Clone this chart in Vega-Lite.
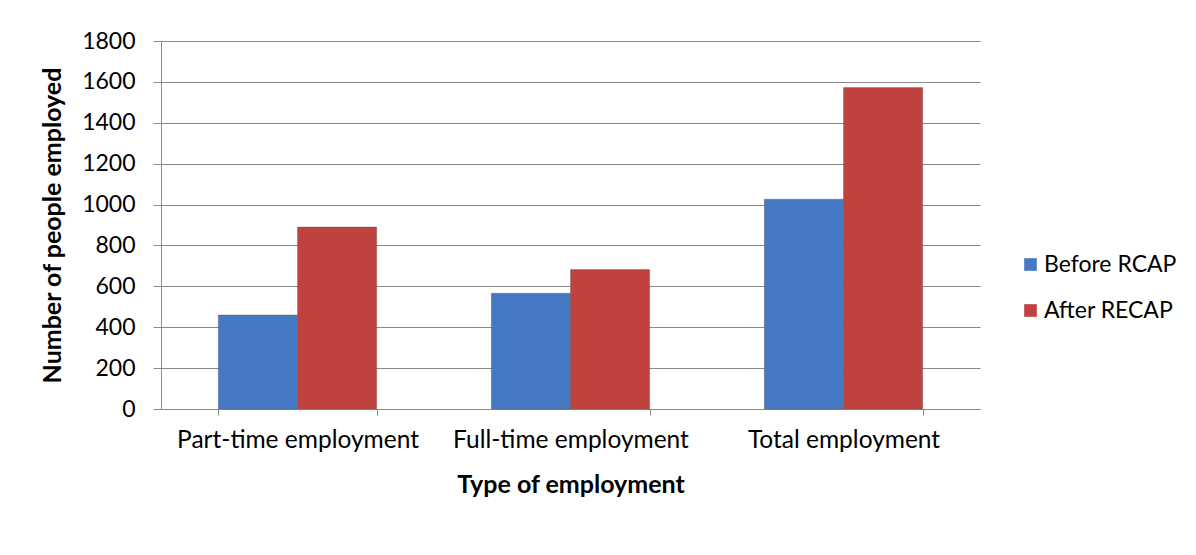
{
  "$schema": "https://vega.github.io/schema/vega-lite/v6.json",
  "autosize": "none",
  "width": 819,
  "height": 368,
  "padding": {"left": 161, "top": 41, "right": 216, "bottom": 146},
  "background": "white",
  "data": {
    "values": [
      {"type": "Part-time employment", "period": "Before RCAP", "value": 460},
      {"type": "Part-time employment", "period": "After RECAP", "value": 890},
      {"type": "Full-time employment", "period": "Before RCAP", "value": 566},
      {"type": "Full-time employment", "period": "After RECAP", "value": 682},
      {"type": "Total employment", "period": "Before RCAP", "value": 1026},
      {"type": "Total employment", "period": "After RECAP", "value": 1572}
    ]
  },
  "mark": {"type": "bar", "stroke": "#555555", "strokeWidth": 0.6, "strokeOpacity": 0.6},
  "encoding": {
    "x": {
      "field": "type",
      "type": "nominal",
      "sort": ["Part-time employment", "Full-time employment", "Total employment"],
      "scale": {"paddingInner": 0.42, "paddingOuter": 0.21},
      "axis": {
        "title": "Type of employment",
        "labelAngle": 0,
        "labelLimit": 400,
        "labelFontSize": 24.5,
        "tickBand": "extent",
        "tickSize": 6,
        "labelPadding": 13,
        "titlePadding": 21,
        "grid": false
      }
    },
    "xOffset": {
      "field": "period",
      "type": "nominal",
      "sort": ["Before RCAP", "After RECAP"],
      "scale": {"paddingInner": 0, "paddingOuter": 0}
    },
    "y": {
      "field": "value",
      "type": "quantitative",
      "scale": {"domain": [0, 1800], "nice": false},
      "axis": {
        "title": "Number of people employed",
        "format": "d",
        "values": [0, 200, 400, 600, 800, 1000, 1200, 1400, 1600, 1800],
        "tickSize": 8,
        "labelPadding": 18,
        "titlePadding": 16,
        "grid": true
      }
    },
    "color": {
      "field": "period",
      "type": "nominal",
      "scale": {"domain": ["Before RCAP", "After RECAP"], "range": ["#4679C4", "#C0423F"]},
      "legend": {
        "title": null,
        "orient": "none",
        "legendX": 858,
        "legendY": 212,
        "symbolType": "square",
        "symbolSize": 160,
        "symbolStrokeWidth": 0,
        "labelFontSize": 23,
        "labelFont": "Lato",
        "labelColor": "#000000",
        "labelOffset": 2,
        "rowPadding": 22
      }
    }
  },
  "config": {
    "view": {"stroke": null},
    "axis": {
      "labelFont": "Lato",
      "labelFontSize": 23,
      "labelColor": "#000000",
      "titleFont": "Lato",
      "titleFontSize": 25,
      "titleFontWeight": "bold",
      "titleColor": "#000000",
      "domainColor": "#8a8a8a",
      "tickColor": "#8a8a8a",
      "gridColor": "#8a8a8a",
      "gridWidth": 1,
      "domainWidth": 1,
      "tickWidth": 1
    }
  }
}
